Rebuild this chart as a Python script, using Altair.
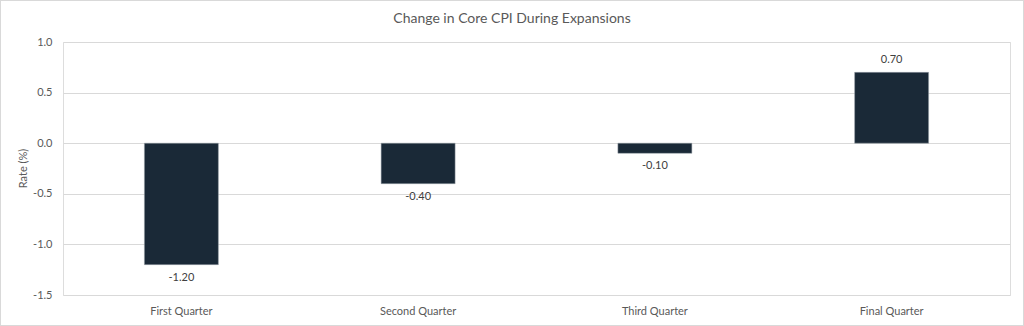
import altair as alt
import pandas as pd

categories = ["First Quarter", "Second Quarter", "Third Quarter", "Final Quarter"]
values = [-1.20, -0.40, -0.10, 0.70]

df = pd.DataFrame({"quarter": categories, "rate": values})

FONT = "Lato"
GRAY = "#595959"

x = alt.X("quarter:N", sort=categories, title=None,
          scale=alt.Scale(paddingInner=0.6875, paddingOuter=0.34375),
          axis=alt.Axis(labelAngle=0, labelPadding=10, ticks=False, domain=False,
                        labelFontSize=11, labelColor=GRAY, labelFont=FONT))
y = alt.Y("rate:Q", title="Rate (%)",
          scale=alt.Scale(domain=[-1.5, 1.0], nice=False),
          axis=alt.Axis(values=[-1.5, -1.0, -0.5, 0.0, 0.5, 1.0],
                        labelExpr="replace(format(datum.value, '.1f'), '\u2212', '-')",
                        labelPadding=11, ticks=False, domain=False,
                        gridColor="#d9d9d9", gridWidth=1,
                        labelFontSize=11, labelColor=GRAY, labelFont=FONT,
                        titleFontSize=11, titleColor=GRAY, titleFont=FONT,
                        titleFontWeight="normal", titleX=-35, titleY=126))

base = alt.Chart(df).encode(x=x)

bars = base.mark_bar(color="#1a2937", stroke="#9aa3ab", strokeWidth=0.5).encode(y=y)

lab_expr = "replace(format(datum.rate, '.2f'), '\u2212', '-')"

labels_neg = base.transform_filter("datum.rate < 0").transform_calculate(
    lab=lab_expr
).mark_text(font=FONT, fontSize=11, color="#404040", baseline="middle", dy=13).encode(
    y=alt.Y("rate:Q"), text="lab:N",
)
labels_pos = base.transform_filter("datum.rate >= 0").transform_calculate(
    lab=lab_expr
).mark_text(font=FONT, fontSize=11, color="#404040", baseline="middle", dy=-12).encode(
    y=alt.Y("rate:Q"), text="lab:N",
)

border = alt.Chart(df).mark_rect(fill=None, stroke="#d9d9d9", strokeWidth=1).encode(
    x=alt.value(-62.5), x2=alt.value(960.5), y=alt.value(-41.5), y2=alt.value(283.5)
)

chart = alt.layer(bars, labels_neg, labels_pos, border).properties(
    width=947, height=253,
    autosize=alt.AutoSizeParams(type="none"),
    padding={"left": 63, "top": 42, "right": 14, "bottom": 31},
    title=alt.TitleParams("Change in Core CPI During Expansions", font=FONT, fontSize=14,
                          fontWeight="normal", color=GRAY, baseline="middle",
                          offset=-33, dx=-24.5),
).configure_view(stroke=None).configure(background="white")

chart.save("out.html", embed_options={"renderer": "svg", "actions": False})
